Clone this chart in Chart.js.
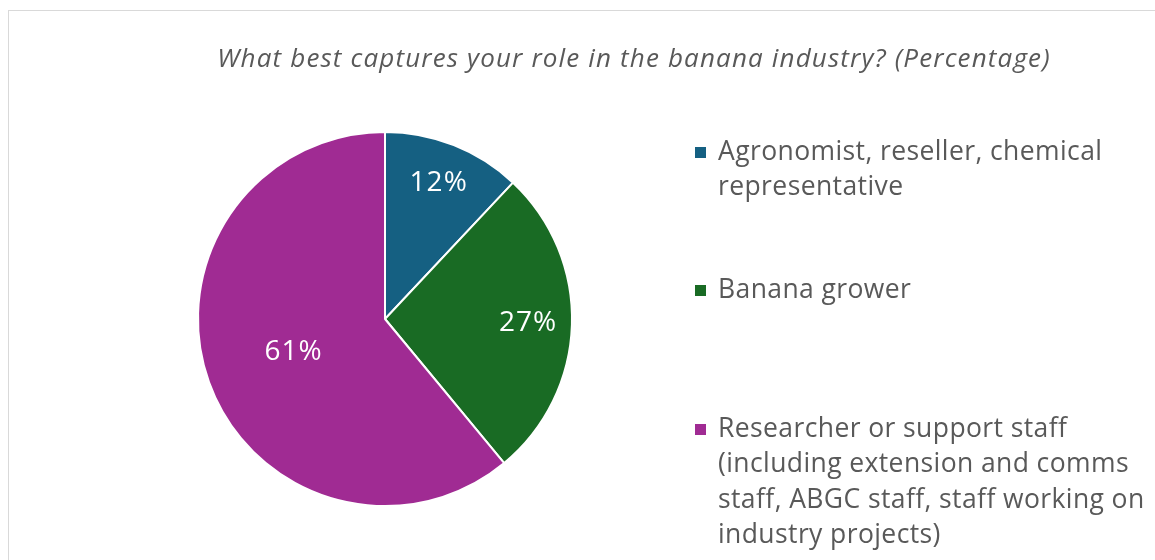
<!DOCTYPE html>
<html>
<head>
<meta charset="utf-8">
<script src="https://cdn.jsdelivr.net/npm/chart.js@4"></script>
<style>
  html, body { margin: 0; padding: 0; background: #fff; }
  #wrap { position: relative; width: 1155px; height: 560px; }
</style>
</head>
<body>
<div id="wrap"><canvas id="roleChart"></canvas></div>
<script>
const chartTitle = 'What best captures your role in the banana industry? (Percentage)';

// legend labels, already broken into lines
const roles = [
  ['Agronomist, reseller, chemical', 'representative'],
  ['Banana grower'],
  ['Researcher or support staff', '(including extension and comms', 'staff, ABGC staff, staff working on', 'industry projects)']
];
const shares = [12, 27, 61];
const colours = ['#156082', '#196B24', '#A02B93'];

// where each % label sits, as a fraction of the radius
const labelRadius = [0.78, 0.765, 0.52];

const textGrey = '#595959';
const family = '"Open Sans", "Liberation Sans", Arial, sans-serif';

const decorations = {
  id: 'decorations',
  beforeDraw(chart) {
    const ctx = chart.ctx;
    ctx.save();
    ctx.strokeStyle = '#d9d9d9';
    ctx.lineWidth = 1;
    ctx.strokeRect(8.5, 10.5, 1300, 700);
    ctx.restore();
  },
  afterDraw(chart) {
    const ctx = chart.ctx;
    ctx.save();

    // title
    ctx.fillStyle = textGrey;
    ctx.font = 'italic 26px ' + family;
    ctx.letterSpacing = '1.15px';
    ctx.textAlign = 'center';
    ctx.textBaseline = 'middle';
    ctx.fillText(chartTitle, 634, 60);

    // percentage labels on the slices
    const meta = chart.getDatasetMeta(0);
    ctx.font = '28px ' + family;
    ctx.letterSpacing = '1px';
    ctx.fillStyle = '#ffffff';
    meta.data.forEach((arc, i) => {
      const mid = (arc.startAngle + arc.endAngle) / 2;
      const r = arc.outerRadius * labelRadius[i];
      ctx.fillText(shares[i] + '%', arc.x + Math.cos(mid) * r, arc.y + Math.sin(mid) * r);
    });

    // legend
    ctx.textAlign = 'left';
    ctx.font = '26.5px ' + family;
    ctx.letterSpacing = '0.4px';
    const tops = [152, 290, 429];
    const lineH = 35.5;
    roles.forEach((lines, i) => {
      ctx.fillStyle = colours[i];
      ctx.fillRect(695, tops[i] - 5, 11, 11);
      ctx.fillStyle = textGrey;
      lines.forEach((line, j) => {
        ctx.fillText(line, 718, tops[i] + j * lineH);
      });
    });

    ctx.restore();
  }
};

new Chart(document.getElementById('roleChart'), {
  type: 'pie',
  data: {
    labels: roles.map(r => r.join(' ')),
    datasets: [{
      data: shares,
      backgroundColor: colours,
      borderColor: '#ffffff',
      borderWidth: 2
    }]
  },
  options: {
    responsive: true,
    maintainAspectRatio: false,
    animation: false,
    layout: {
      padding: { left: 197, right: 1155 - 573, top: 131, bottom: 560 - 507 }
    },
    plugins: {
      legend: { display: false },
      title: { display: false },
      tooltip: { enabled: false }
    }
  },
  plugins: [decorations]
});
</script>
</body>
</html>
